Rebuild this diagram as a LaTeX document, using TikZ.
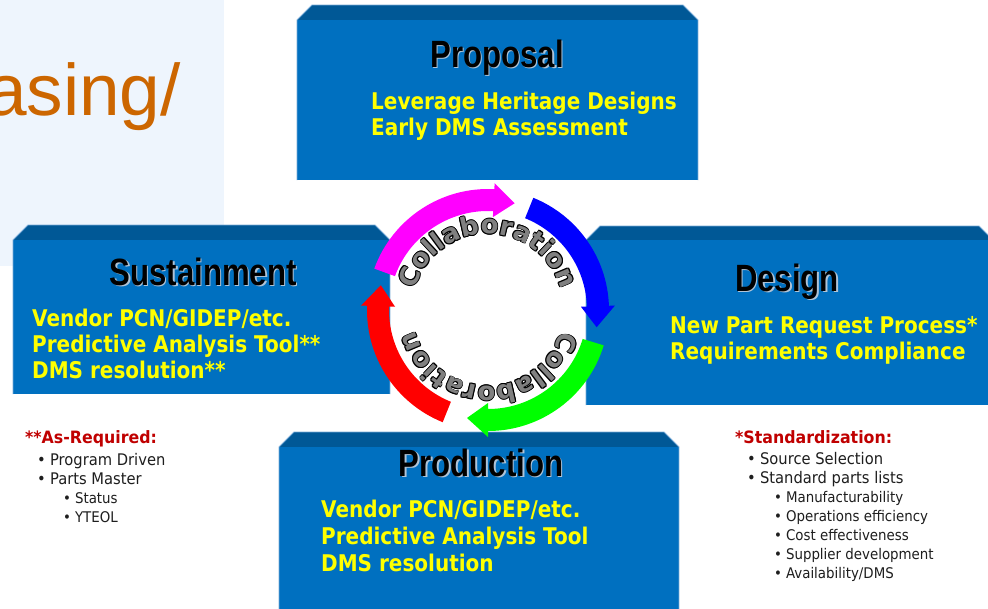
\documentclass[tikz,border=0pt]{standalone}
\usepackage{fontspec}
\setmainfont{DejaVu Sans}
\newfontfamily\libsans{Liberation Sans}
\usetikzlibrary{decorations.text}
\definecolor{boxface}{RGB}{0,112,192}
\definecolor{boxtop}{RGB}{0,88,150}
\definecolor{boxedge}{RGB}{120,170,215}
\definecolor{bgblue}{RGB}{238,245,253}
\definecolor{orng}{RGB}{204,102,0}
\definecolor{yel}{RGB}{255,255,0}
\definecolor{noteRed}{RGB}{192,0,0}
\definecolor{noteText}{RGB}{30,30,30}
\definecolor{collgray}{RGB}{128,128,128}
\definecolor{shadowc}{RGB}{175,195,215}
\definecolor{arrMag}{RGB}{255,0,255}
\definecolor{arrBlue}{RGB}{0,0,255}
\definecolor{arrGreen}{RGB}{0,255,0}
\definecolor{arrRed}{RGB}{255,0,0}
\newcommand{\collfont}{\bfseries\fontsize{26}{30}\selectfont}
\tikzset{
  facefill/.style={fill=boxface},
  topfill/.style={fill=boxtop},
  edgeline/.style={draw=boxedge, line width=0.8pt},
  titletext/.style={anchor=base, inner sep=0pt, text=black, font=\libsans\bfseries\fontsize{38}{40}\selectfont},
  titleshadow/.style={titletext, text=shadowc},
  yline/.style={anchor=base west, inner sep=0pt, text=yel, font=\bfseries\fontsize{23}{27}\selectfont},
  notehead/.style={anchor=base west, inner sep=0pt, text=noteRed, font=\bfseries\fontsize{17}{20}\selectfont},
  notemain/.style={anchor=base west, inner sep=0pt, text=noteText, font=\fontsize{16}{19}\selectfont},
  notesub/.style={anchor=base west, inner sep=0pt, text=noteText, font=\fontsize{14.7}{17}\selectfont},
  collpath/.style={decorate, decoration={text along path, text align=center, text color=#1, text={|\collfont|Collaboration}}},
}
\newcommand{\bevbox}[5]{%
  \fill[topfill] (#1,#2+#5) -- (#1+#5,#2) -- (#3-#5,#2) -- (#3,#2+#5) -- cycle;
  \fill[facefill] (#1,#2+#5) rectangle (#3,#4);
  \draw[edgeline] (#1,#4) -- (#1,#2+#5) -- (#1+#5,#2) -- (#3-#5,#2) -- (#3,#2+#5) -- (#3,#4);
}
\newcommand{\boxtitle}[4]{%
  \node[titleshadow] (#1s) at (#2+1.6,#3+1.6) {\scalebox{0.82}[1]{#4}};
  \node[titletext] (#1) at (#2,#3) {\scalebox{0.82}[1]{#4}};
}
\newcommand{\yl}[4]{\node[yline] (#1) at (#2,#3) {\scalebox{0.87}[1]{#4}};}
\newcommand{\nmain}[4]{\node[notemain] (#1) at (#2,#3) {\scalebox{0.92}[1]{\makebox[14pt][l]{•}#4}};}
\newcommand{\nsub}[4]{\node[notesub] (#1) at (#2,#3) {\scalebox{0.91}[1]{\makebox[13pt][l]{•}#4}};}
\begin{document}
\begin{tikzpicture}[x=1pt, y=1pt, yscale=-1]
\useasboundingbox (0,0) rectangle (988,608);
\clip (0,0) rectangle (988,608);
\fill[white] (0,0) rectangle (988,608);
\fill[bgblue] (0,0) rectangle (224,266);
\node[anchor=base east, inner sep=0pt, text=orng, font=\libsans\fontsize{73}{80}\selectfont] (asing) at (181,115) {asing/};

% boxes
\bevbox{297}{5}{698}{180}{15}
\bevbox{13}{225}{390}{394}{15}
\bevbox{586}{226}{993}{405}{14}
\bevbox{279}{432}{679}{615}{15}

\boxtitle{proposal}{497}{67}{Proposal}
\yl{p1}{371}{109}{Leverage Heritage Designs}
\yl{p2}{371}{135}{Early DMS Assessment}

\boxtitle{sustain}{203}{285}{Sustainment}
\yl{s1}{32}{326}{Vendor PCN/GIDEP/etc.}
\yl{s2}{32}{352}{Predictive Analysis Tool**}
\yl{s3}{32}{378}{DMS resolution**}

\boxtitle{design}{787}{291}{Design}
\yl{d1}{670}{333}{New Part Request Process*}
\yl{d2}{670}{359}{Requirements Compliance}

\boxtitle{production}{481}{476}{Production}
\yl{r1}{321}{517}{Vendor PCN/GIDEP/etc.}
\yl{r2}{321}{544}{Predictive Analysis Tool}
\yl{r3}{321}{571}{DMS resolution}

% notes left
\node[notehead] (asreq) at (25,443) {\scalebox{0.93}[1]{**As-Required:}};
\nmain{l1}{37}{465}{Program Driven}
\nmain{l2}{37}{484}{Parts Master}
\nsub{l3}{63}{503}{Status}
\nsub{l4}{63}{522}{YTEOL}

% notes right
\node[notehead] (stdz) at (735,443) {\scalebox{0.93}[1]{*Standardization:}};
\nmain{r1n}{747}{464}{Source Selection}
\nmain{r2n}{747}{483}{Standard parts lists}
\nsub{r3n}{774}{502}{Manufacturability}
\nsub{r4n}{774}{521}{Operations efficiency}
\nsub{r5n}{774}{540}{Cost effectiveness}
\nsub{r6n}{774}{559}{Supplier development}
\nsub{r7n}{774}{578}{Availability/DMS}

% collaboration ring
\begin{scope}[shift={(488,310)}, yscale=-1]
  \foreach \ta/\tb/\col in {160/76/arrMag, 68/-9/arrBlue, -17/-101/arrGreen, -112/-193/arrRed} {
    \pgfmathsetmacro\tbase{\tb+11}
    \fill[\col] (\ta:121pt) arc[start angle=\ta, end angle=\tbase, radius=121pt]
      -- (\tbase:127pt) -- (\tb:110pt) -- (\tbase:93pt) -- (\tbase:99pt)
      arc[start angle=\tbase, end angle=\ta, radius=99pt] -- cycle;
  }
  \foreach \dx/\dy in {0.9/0, -0.9/0, 0/0.9, 0/-0.9, 0.65/0.65, -0.65/0.65, 0.65/-0.65, -0.65/-0.65} {
    \path[shift={(\dx pt,\dy pt)}, collpath=black]
      (165:76pt) arc[start angle=165, end angle=15, radius=76pt];
    \path[shift={(\dx pt,\dy pt)}, collpath=black]
      (-15:76pt) arc[start angle=-15, end angle=-165, radius=76pt];
  }
  \path[collpath=collgray] (165:76pt) arc[start angle=165, end angle=15, radius=76pt];
  \path[collpath=collgray] (-15:76pt) arc[start angle=-15, end angle=-165, radius=76pt];
\end{scope}
\end{tikzpicture}
\end{document}
